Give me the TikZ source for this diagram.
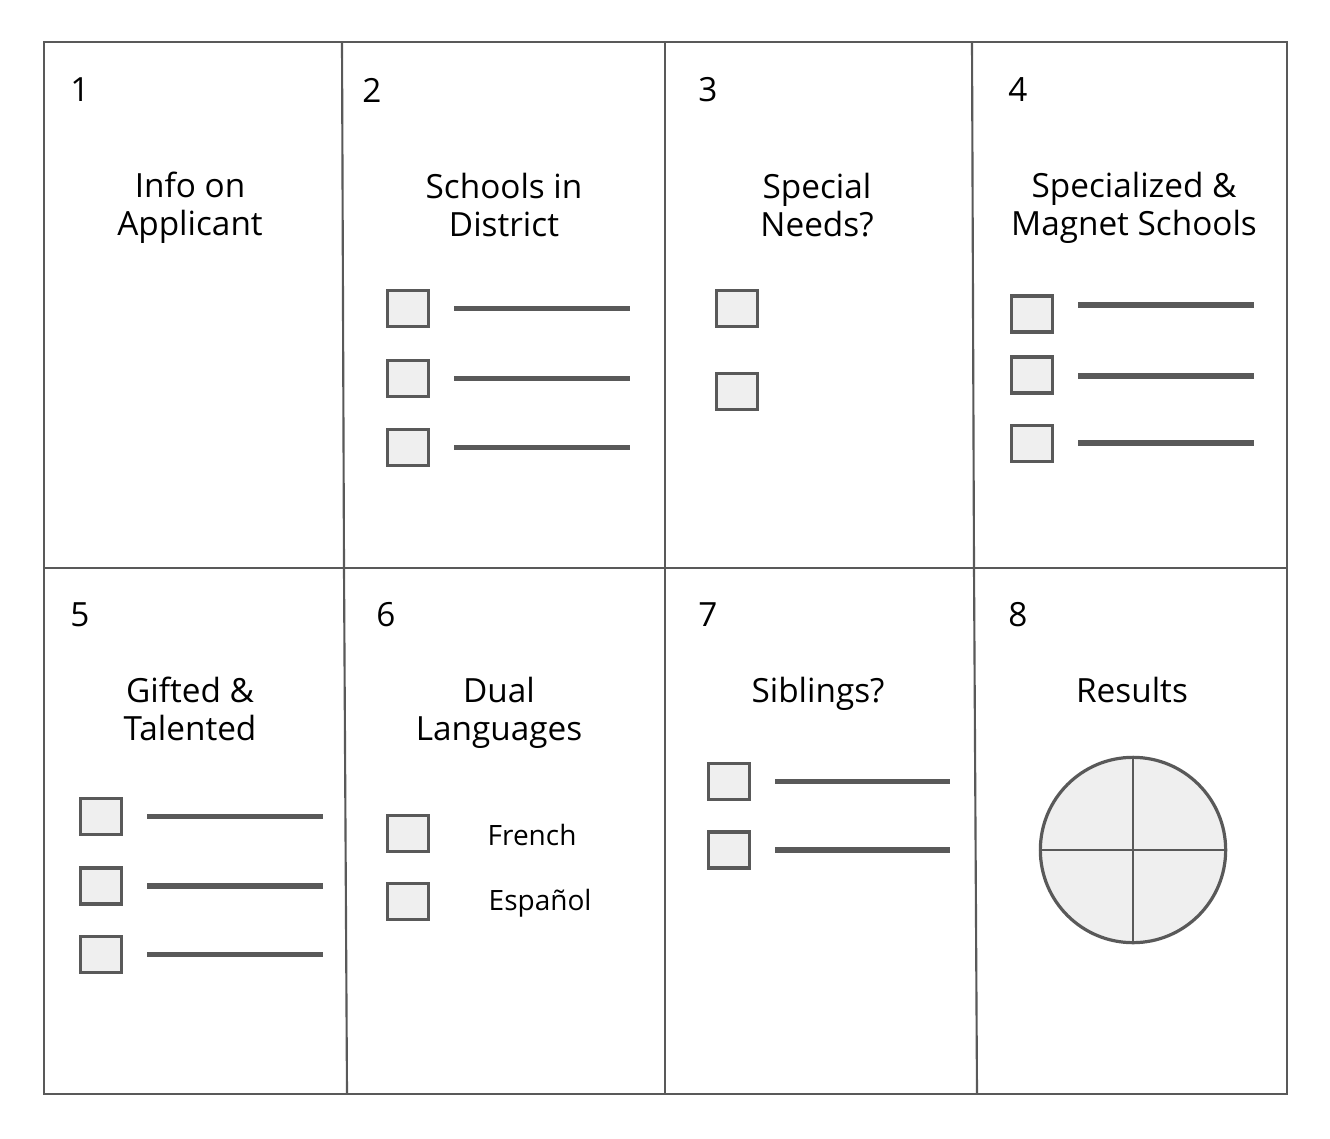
\documentclass[tikz,border=0pt]{standalone}
\usepackage{fontspec}
\setmainfont{Open Sans}
\usetikzlibrary{positioning,calc}

\definecolor{framegray}{HTML}{595959}
\definecolor{boxfill}{HTML}{EFEFEF}

\begin{document}
\begin{tikzpicture}[
    x=0.75pt, y=-0.75pt,
    frame/.style={draw=framegray, line width=1.6pt},
    num/.style={font=\fontsize{25}{28.5}\selectfont},
    title/.style={align=center, font=\fontsize{25}{28.5}\selectfont},
    tickbox/.style={draw=framegray, fill=boxfill, line width=2.4pt, minimum width=30.75pt, minimum height=27pt, inner sep=0pt},
    blank/.style={draw=framegray, line width=3.8pt},
    opt/.style={font=\fontsize{21}{25}\selectfont}
]
\useasboundingbox (0,0) rectangle (1330,1138);

% Grid
\draw[frame] (44,42) rectangle (1287,1094);
\draw[frame] (44,568) -- (1287,568);
\draw[frame] (342,42) -- (344,568) -- (347,1094);
\draw[frame] (665,42) -- (665,1094);
\draw[frame] (972,42) -- (974,568) -- (977,1094);

% Panel numbers
\node[num] (n1) at (80,90) {1};
\node[num] (n2) at (372,90) {2};
\node[num] (n3) at (708,90) {3};
\node[num] (n4) at (1018,90) {4};
\node[num] (n5) at (80,615) {5};
\node[num] (n6) at (386,615) {6};
\node[num] (n7) at (708,615) {7};
\node[num] (n8) at (1018,615) {8};

% Titles
\node[title] (applicant) at (190,208) {Info on\\Applicant};
\node[title] (district) at (504,205) {Schools in\\District};
\node[title] (needs) at (817,205) {Special\\Needs?};
\node[title] (magnet) at (1134,208) {Specialized \&\\Magnet Schools};
\node[title] (gifted) at (190,709) {Gifted \&\\Talented};
\node[title] (dual) at (499,713) {Dual\\Languages};
\node[title] (siblings) at (818,694) {Siblings?};
\node[title] (results) at (1132,690) {Results};

% Schools in district
\foreach \i/\y in {1/308.5, 2/378.5, 3/447.5} {
    \node[tickbox] (sd\i) at (408,\y) {};
    \draw[blank] (454,\y) -- (630,\y);
}

% Special needs
\node[tickbox] (sn1) at (737,308.5) {};
\node[tickbox] (sn2) at (737,391.5) {};

% Specialized & magnet
\foreach \i/\y/\ly in {1/314/305, 2/375/376, 3/443.5/443} {
    \node[tickbox] (sm\i) at (1032,\y) {};
    \draw[blank] (1078,\ly) -- (1254,\ly);
}

% Gifted & talented
\foreach \i/\y in {1/816.5, 2/886, 3/954.5} {
    \node[tickbox] (gt\i) at (101,\y) {};
    \draw[blank] (147,\y) -- (323,\y);
}

% Dual languages
\node[tickbox] (dl1) at (408,833.5) {};
\node[tickbox] (dl2) at (408,901.5) {};
\node[opt, anchor=base west] (french) at (483,845) {French};
\node[opt, anchor=base west] (espanol) at (484,910) {Español};

% Siblings
\foreach \i/\y in {1/781.5, 2/850} {
    \node[tickbox] (sb\i) at (729,\y) {};
    \draw[blank] (775,\y) -- (950,\y);
}

% Results
\node[circle, draw=framegray, fill=boxfill, line width=2.4pt, minimum size=139pt, inner sep=0pt] (pie) at (1133,850) {};
\draw[draw=framegray, line width=2.2pt] (pie.north) -- (pie.south);
\draw[draw=framegray, line width=2.2pt] (pie.west) -- (pie.east);

\end{tikzpicture}
\end{document}
